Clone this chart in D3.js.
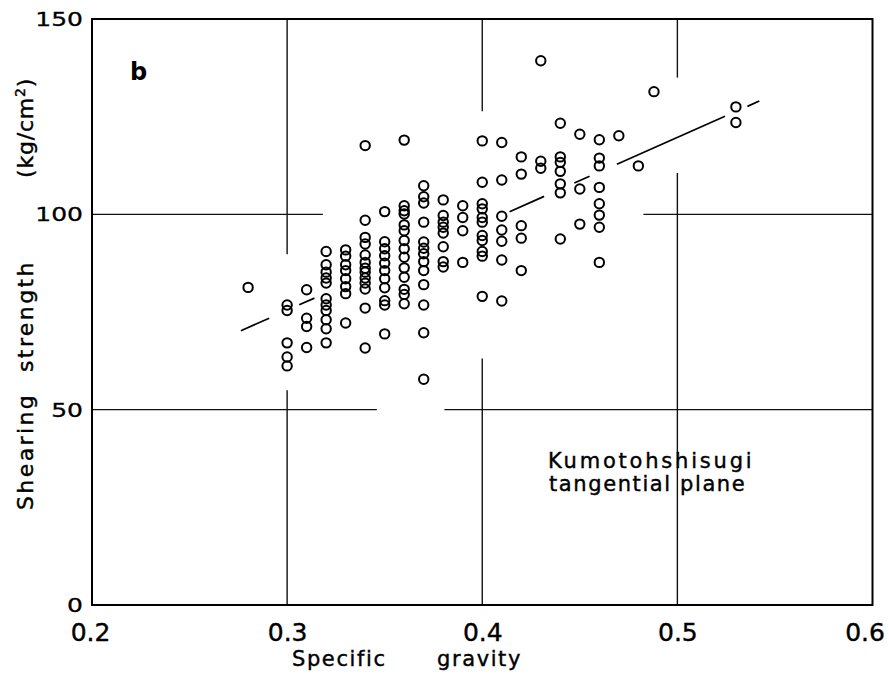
<!DOCTYPE html>
<html><head><meta charset="utf-8">
<script src="https://cdn.jsdelivr.net/npm/d3@7"></script>
<style>body{margin:0;background:#fff}svg{display:block}text{font-family:"DejaVu Sans",sans-serif;fill:#000}</style>
</head><body><svg id="c" width="889" height="675"></svg>
<script>
// Specific gravity (x) and shearing strength, kg/cm2 (y), by column
const gravity = [0.28,0.30,0.31,0.32,0.33,0.34,0.35,0.36,0.37,0.38,0.39,0.40,0.41,0.42,0.43,0.44,0.45,0.46,0.47,0.48,0.488,0.53];
const strength = [
  [81.3],
  [76.8,75.4,67.1,63.5,61.2],
  [80.7,73.4,71.3,65.9],
  [90.5,87.1,85.2,83.7,82.4,78.4,76.8,75.4,73.0,70.7,67.1],
  [90.9,89.3,87.1,85.6,83.5,81.5,79.7,72.2],
  [117.6,98.5,94.1,92.4,89.6,87.7,86.2,85.2,83.7,82.4,80.9,76.0,65.8],
  [100.7,93.0,91.2,89.4,87.5,85.6,83.5,81.2,77.9,76.8,69.4],
  [119.0,102.2,100.9,100.1,97.3,95.8,93.3,91.2,89.0,86.3,83.9,80.8,79.5,77.1],
  [107.3,104.5,102.9,98.0,92.9,91.3,89.9,87.9,85.6,82.0,76.8,69.7,57.8],
  [103.7,99.7,98.0,96.7,95.2,91.7,87.9,86.5],
  [102.2,99.2,95.8,87.7],
  [118.8,108.2,102.7,101.4,99.2,98.0,94.6,93.3,90.5,89.3,79.0],
  [118.4,108.8,99.5,96.0,93.1,88.3,77.8],
  [114.7,110.3,97.1,93.9,85.6],
  [139.3,113.6,111.8],
  [123.3,114.7,113.3,111.0,107.8,105.5,93.7],
  [120.5,106.5,97.5],
  [119.1,114.4,112.4,106.9,102.7,99.8,96.7,87.7],
  [120.1],
  [112.4],
  [131.4],
  [127.5,123.5]
];
// regression line y = a + b*x, drawn in broken pieces (x ranges)
const regIntercept = 9.1, regSlope = 221.2;
const regPieces = [[0.2763,0.2908],[0.3062,0.3140],[0.4140,0.4317],[0.4472,0.4550],[0.4690,0.5244],[0.5359,0.5420]];
// grid lines with their visible ranges
const xTicks = [0.2,0.3,0.4,0.5,0.6];
const yTicks = [0,50,100,150];
const vGrid = [[0.3,[[0,55.0],[89.8,150]]],[0.4,[[0,63.1],[126.4,150]]],[0.5,[[0,110.6],[135.0,150]]]];
const hGrid = [[50,[[0.2,0.346],[0.3806,0.6]]],[100,[[0.2,0.3183],[0.4826,0.6]]]];
const xLabelWords = ["Specific","gravity"];
const yLabelWords = ["Shearing","strength"];
const panelLabel = "b";
const noteLines = ["Kumotohshisugi","tangential plane"];

const svg = d3.select("#c");
const L=92, R=872.5, T=19, B=605;
const x = d3.scaleLinear().domain([0.2,0.6]).range([L,R]);
const y = d3.scaleLinear().domain([0,150]).range([B,T]);

// grid
const g = svg.append("g").attr("stroke","#111").attr("stroke-width",1.4);
vGrid.forEach(([v,segs])=>segs.forEach(([a,b])=>g.append("line").attr("x1",x(v)).attr("x2",x(v)).attr("y1",y(a)).attr("y2",y(b))));
hGrid.forEach(([v,segs])=>segs.forEach(([a,b])=>g.append("line").attr("y1",y(v)).attr("y2",y(v)).attr("x1",x(a)).attr("x2",x(b))));

// frame
svg.append("rect").attr("x",L).attr("y",T).attr("width",R-L).attr("height",B-T).attr("fill","none").attr("stroke","#000").attr("stroke-width",2);

// x tick labels
const xAxis = d3.axisBottom(x).tickValues(xTicks).tickSize(0).tickFormat(d3.format(".1f"));
const xa = svg.append("g").attr("transform",`translate(0,${B})`).call(xAxis);
xa.select(".domain").remove();
xa.selectAll("text").attr("font-size",25).attr("dy",0).attr("y",36)
  .style("font-family","DejaVu Sans").attr("fill","#000").attr("stroke","#000").attr("stroke-width",0.4);
xa.selectAll(".tick").filter(d=>d===0.2).select("text").attr("dx",-2);
xa.selectAll(".tick").filter(d=>d===0.6).select("text").attr("dx",-8);

// y tick labels
const ya = svg.append("g").attr("stroke","#000").attr("stroke-width",0.4);
yTicks.forEach(v=>{
  ya.append("text").attr("transform",`translate(83,${y(v)+7}) scale(1,0.78)`)
    .attr("text-anchor","end").attr("font-size",25).text(d3.format("d")(v));
});

// regression pieces
svg.append("g").selectAll("line").data(regPieces).join("line")
  .attr("x1",d=>x(d[0])).attr("x2",d=>x(d[1]))
  .attr("y1",d=>y(regIntercept+regSlope*d[0])).attr("y2",d=>y(regIntercept+regSlope*d[1]))
  .attr("stroke","#000").attr("stroke-width",1.7);

// points
const pts = [];
gravity.forEach((gv,i)=>strength[i].forEach(s=>pts.push([gv,s])));
svg.append("g").selectAll("circle").data(pts).join("circle")
  .attr("cx",d=>x(d[0])).attr("cy",d=>y(d[1])).attr("r",4.7)
  .attr("fill","none").attr("stroke","#000").attr("stroke-width",2);

// titles
const tg = svg.append("g").attr("stroke","#000").attr("stroke-width",0.4);
tg.append("text").attr("x",292).attr("y",666).attr("font-size",21).attr("letter-spacing",1.6).text(xLabelWords[0]);
tg.append("text").attr("x",437).attr("y",666).attr("font-size",21).attr("letter-spacing",1.6).text(xLabelWords[1]);
const yt = tg.append("g").attr("font-size",22).attr("letter-spacing",2.4);
yt.append("text").attr("transform","translate(33,510) rotate(-90)").text(yLabelWords[0]);
yt.append("text").attr("transform","translate(33,372) rotate(-90)").text(yLabelWords[1]);
const unit = yt.append("text").attr("transform","translate(33,178) rotate(-90)").attr("letter-spacing",0.8);
unit.append("tspan").text("(kg/cm");
unit.append("tspan").attr("font-size",14).attr("dy",-8).text("2");
unit.append("tspan").attr("dy",8).text(")");

svg.append("text").attr("x",130).attr("y",80).attr("font-size",24).attr("font-weight","bold").text(panelLabel);
tg.append("text").attr("x",548).attr("y",468).attr("font-size",21).attr("letter-spacing",2.8).text(noteLines[0]);
tg.append("text").attr("x",549).attr("y",491).attr("font-size",21).attr("letter-spacing",1.6).text(noteLines[1]);
</script></body></html>
